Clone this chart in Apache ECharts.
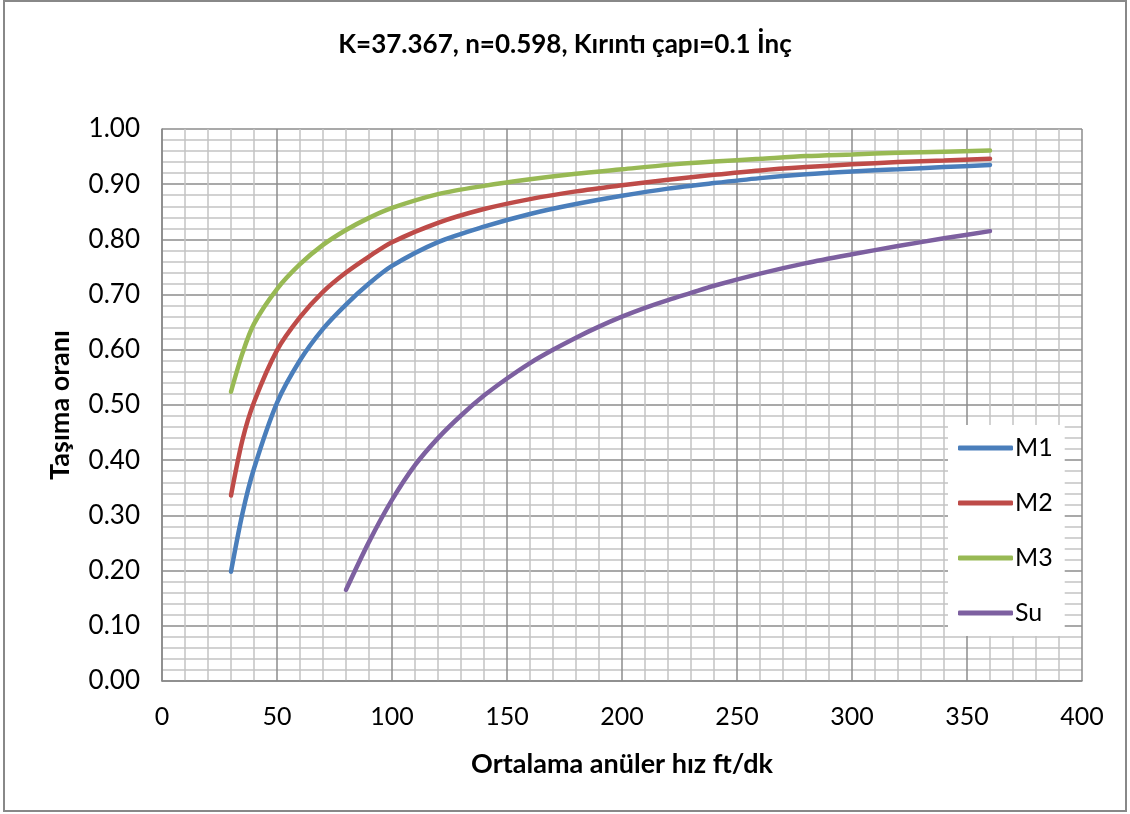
<!DOCTYPE html>
<html>
<head>
<meta charset="utf-8">
<script src="https://cdn.jsdelivr.net/npm/echarts@6/dist/echarts.min.js"></script>
<style>
html,body{margin:0;padding:0;background:#fff;}
#c{width:1130px;height:814px;}
</style>
</head>
<body>
<div id="c"></div>
<script>
// Data
var xM = [30, 35, 40, 50, 60, 70, 80, 90, 100, 120, 140, 160, 180, 200, 220, 240, 260, 280, 300, 320, 340, 360];
var m1 = [0.198, 0.304, 0.385, 0.504, 0.581, 0.638, 0.682, 0.720, 0.752, 0.795, 0.823, 0.846, 0.864, 0.879, 0.892, 0.902, 0.911, 0.918, 0.923, 0.927, 0.931, 0.935];
var m2 = [0.336, 0.437, 0.505, 0.599, 0.659, 0.705, 0.740, 0.769, 0.795, 0.830, 0.855, 0.873, 0.887, 0.898, 0.908, 0.917, 0.925, 0.931, 0.936, 0.940, 0.943, 0.946];
var m3 = [0.524, 0.594, 0.647, 0.710, 0.755, 0.790, 0.817, 0.839, 0.857, 0.882, 0.897, 0.909, 0.919, 0.927, 0.935, 0.941, 0.946, 0.951, 0.954, 0.957, 0.959, 0.961];
var xSu = [80, 90, 100, 110, 120, 130, 140, 150, 160, 170, 180, 190, 200, 210, 220, 230, 240, 260, 280, 300, 320, 340, 360];
var su = [0.165, 0.252, 0.328, 0.391, 0.440, 0.481, 0.517, 0.548, 0.576, 0.600, 0.622, 0.642, 0.660, 0.676, 0.690, 0.703, 0.716, 0.738, 0.757, 0.773, 0.788, 0.802, 0.815];
var seriesNames = ['M1', 'M2', 'M3', 'Su'];
var colors = ['#4a7ebb', '#be4b48', '#98b954', '#7d60a0'];

function pairs(xs, ys) { return xs.map(function (x, i) { return [x, ys[i]]; }); }
var seriesData = [pairs(xM, m1), pairs(xM, m2), pairs(xM, m3), pairs(xSu, su)];

var font = 'Lato, "Open Sans", sans-serif';
var chart = echarts.init(document.getElementById('c'));
chart.setOption({
  animation: false,
  backgroundColor: '#fff',
  textStyle: { fontFamily: font },
  title: {
    text: 'K=37.367, n=0.598, Kırıntı çapı=0.1 İnç',
    left: 'center', top: 27,
    textStyle: { fontFamily: font, fontSize: 26, fontWeight: 'bold', color: '#000' }
  },
  graphic: [{
    type: 'rect', shape: { x: 4, y: 1, width: 1122, height: 810 },
    style: { fill: 'none', stroke: '#888', lineWidth: 2 }, silent: true, z: 0
  }],
  legend: {
    orient: 'vertical', left: 948, top: 425,
    backgroundColor: '#fff', padding: [8, 12, 8, 10],
    icon: 'roundRect', itemWidth: 55, itemHeight: 5, itemGap: 25,
    textStyle: { fontFamily: font, fontSize: 25, color: '#000', padding: [0, 0, 0, -3], lineHeight: 30 },
    data: seriesNames
  },
  grid: { left: 162, right: 48, top: 129, bottom: 133, containLabel: false },
  xAxis: {
    type: 'value', min: 0, max: 400, interval: 50,
    name: 'Ortalama anüler hız ft/dk', nameLocation: 'middle', nameGap: 70,
    nameTextStyle: { fontFamily: font, fontSize: 27, fontWeight: 'bold', color: '#000' },
    axisLine: { show: true, onZero: false, lineStyle: { color: '#888', width: 1.5 } },
    axisTick: { show: false },
    axisLabel: { fontFamily: font, fontSize: 25, color: '#000', margin: 23 },
    splitLine: { show: true, lineStyle: { color: '#8c8c8c', width: 1.5 } },
    minorTick: { show: false, splitNumber: 5 },
    minorSplitLine: { show: true, lineStyle: { color: '#c4c4c4', width: 1.5 } }
  },
  yAxis: {
    type: 'value', min: 0, max: 1, interval: 0.1,
    name: 'Taşıma oranı', nameLocation: 'middle', nameGap: 88,
    nameTextStyle: { fontFamily: font, fontSize: 27, fontWeight: 'bold', color: '#000' },
    axisLine: { show: true, lineStyle: { color: '#888', width: 1.5 } },
    axisTick: { show: false },
    axisLabel: { fontFamily: font, fontSize: 26, color: '#000', margin: 22,
      formatter: function (v) { return v.toFixed(2); } },
    splitLine: { show: true, lineStyle: { color: '#8c8c8c', width: 1.5 } },
    minorTick: { show: false, splitNumber: 5 },
    minorSplitLine: { show: true, lineStyle: { color: '#c4c4c4', width: 1.5 } }
  },
  series: seriesNames.map(function (n, i) {
    return {
      name: n, type: 'line', data: seriesData[i], smooth: 0.3,
      symbol: 'none', color: colors[i],
      lineStyle: { width: 4.5, color: colors[i], cap: 'round' }
    };
  })
});
</script>
</body>
</html>
